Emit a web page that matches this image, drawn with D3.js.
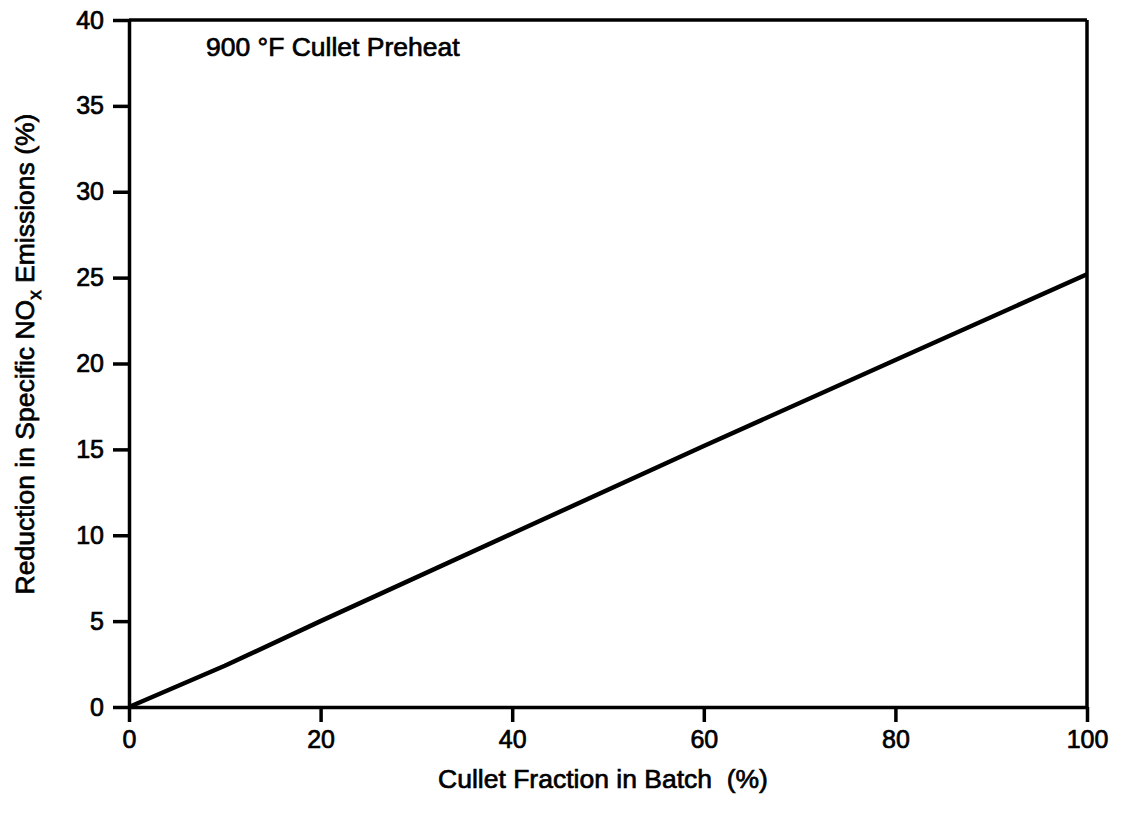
<!DOCTYPE html>
<html>
<head>
<meta charset="utf-8">
<script src="https://cdn.jsdelivr.net/npm/d3@7"></script>
<style>
  html, body { margin: 0; padding: 0; background: #fff; }
  svg { display: block; }
  text { font-family: "Liberation Sans", Arial, Helvetica, sans-serif; fill: #000; }
</style>
</head>
<body>
<svg id="chart" width="1123" height="815"></svg>
<script>
// ---- data ----
const culletFraction = [0, 10, 20, 40, 60, 80, 100];
const noxReduction   = [0, 2.4, 5.0, 10.1, 15.2, 20.2, 25.2];
const xTicks = [0, 20, 40, 60, 80, 100];
const yTicks = [0, 5, 10, 15, 20, 25, 30, 35, 40];
const xTitle = "Cullet Fraction in Batch  (%)";
const yTitleMain = "Reduction in Specific NO";
const yTitleSub = "x";
const yTitleEnd = " Emissions (%)";
const annotation = "900 \u00B0F Cullet Preheat";

// ---- layout ----
const W = 1123, H = 815;
const m = { left: 129, right: 1123 - 1087, top: 20, bottom: 815 - 707 };
const svg = d3.select("#chart");
const pw = W - m.left - m.right, ph = H - m.top - m.bottom;
const g = svg.append("g").attr("transform", `translate(${m.left},${m.top})`);

const x = d3.scaleLinear().domain([0, 100]).range([0, pw]);
const y = d3.scaleLinear().domain([0, 40]).range([ph, 0]);

const FS_TICK = 25;
const FS_TITLE = 26.5;
const TSW = 0.7;   // text heaviness
const AX = 3.5;

// axes
const xAxis = g.append("g").attr("transform", `translate(0,${ph})`)
  .call(d3.axisBottom(x).tickValues(xTicks).tickSize(15).tickSizeOuter(0).tickPadding(8));
const yAxis = g.append("g")
  .call(d3.axisLeft(y).tickValues(yTicks).tickSize(16).tickSizeOuter(0).tickPadding(9));

[xAxis, yAxis].forEach(a => {
  a.selectAll("path.domain").attr("stroke", "#000").attr("stroke-width", AX);
  a.selectAll(".tick line").attr("stroke", "#000").attr("stroke-width", AX);
  a.selectAll(".tick text")
    .style("font-family", '"Liberation Sans", Arial, sans-serif')
    .style("font-size", FS_TICK + "px")
    .attr("fill", "#000")
    .attr("stroke", "#000").attr("stroke-width", TSW);
});

// frame top and right
g.append("line").attr("x1", x(0)).attr("x2", x(100)).attr("y1", y(40)).attr("y2", y(40))
  .attr("stroke", "#000").attr("stroke-width", AX);
g.append("line").attr("x1", x(100)).attr("x2", x(100)).attr("y1", y(40)).attr("y2", y(0))
  .attr("stroke", "#000").attr("stroke-width", AX);

// data line
const pts = culletFraction.map((v, i) => [v, noxReduction[i]]);
g.append("path").datum(pts)
  .attr("fill", "none").attr("stroke", "#000").attr("stroke-width", 4.5)
  .attr("stroke-linejoin", "round")
  .attr("d", d3.line().x(d => x(d[0])).y(d => y(d[1])));

// annotation
svg.append("text").attr("x", 206).attr("y", 56)
  .style("font-size", FS_TITLE + "px").attr("stroke", "#000").attr("stroke-width", TSW)
  .text(annotation);

// x title
svg.append("text").attr("x", 603).attr("y", 788).attr("text-anchor", "middle")
  .style("font-size", FS_TITLE + "px").attr("stroke", "#000").attr("stroke-width", TSW)
  .attr("xml:space", "preserve").style("white-space", "pre")
  .text(xTitle);

// y title
const yt = svg.append("text")
  .attr("transform", `translate(34,354) rotate(-90)`)
  .attr("text-anchor", "middle")
  .style("font-size", FS_TITLE + "px").attr("stroke", "#000").attr("stroke-width", TSW);
yt.append("tspan").text(yTitleMain);
yt.append("tspan").attr("dy", 7).style("font-size", "19px").text(yTitleSub);
yt.append("tspan").attr("dy", -7).text(yTitleEnd);
</script>
</body>
</html>
